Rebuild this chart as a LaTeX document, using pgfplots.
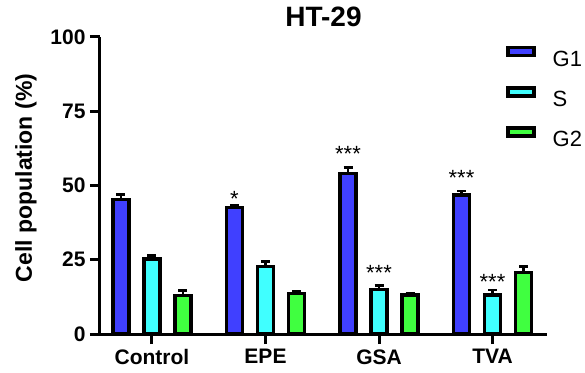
\documentclass[border=0pt]{standalone}
\usepackage{fontspec}
\setmainfont{Liberation Sans}
\usepackage{pgfplots}
\pgfplotsset{compat=1.18}
\definecolor{cG1}{HTML}{4040FF}
\definecolor{cS}{HTML}{40FFFF}
\definecolor{cG2}{HTML}{40FF40}
\begin{document}
\begin{tikzpicture}
\begin{axis}[
  at={(0pt,0pt)}, anchor=south west,
  scale only axis, width=447pt, height=297pt,
  xmin=-0.458, xmax=3.48, ymin=0, ymax=100,
  axis x line*=bottom, axis y line*=left,
  axis line style={line width=3pt, -},
  ytick={0,25,50,75,100},
  xtick={0,1,2,3}, xticklabels={Control,EPE,GSA,TVA},
  tick style={line width=3pt, black}, major tick length=10pt, tick align=outside,
  ticklabel style={font=\fontsize{21}{24}\selectfont\bfseries},
  /pgf/number format/assume math mode=true,
  yticklabel style={xshift=-1pt},
  xticklabel style={yshift=-2pt},
  ylabel={Cell population (\%)},
  ylabel style={font=\fontsize{23}{26}\selectfont\bfseries, at={(axis description cs:0,0.5)}, anchor=center, yshift=74pt, xshift=7.5pt},
  title={HT-29},
  title style={font=\fontsize{28}{30}\selectfont\bfseries, at={(axis description cs:0.5,1)}, anchor=base, yshift=4pt},
  ybar, bar width=16pt,
  legend style={draw=none, fill=none, at={(axis description cs:0.9016,0.9774)}, anchor=north west,
    font=\fontsize{22}{24}\selectfont, nodes={inner sep=0pt}, row sep=18pt, column sep=17pt},
  legend cell align=left,
  legend image code/.code={\draw[#1, line width=3.5pt, draw=black] (0pt,4pt) rectangle (26pt,12pt);},
  error bars/y dir=plus, error bars/y explicit,
  error bars/error bar style={line width=2.5pt, black},
  error bars/error mark options={rotate=90, mark size=4.5pt, line width=2.5pt, black},
]
\addplot[bar shift=-31pt, fill=cG1, draw=black, line width=3.5pt]
  coordinates {(0,45.3) +- (0,1.7) (1,42.6) +- (0,0.9) (2,54.1) +- (0,2.0) (3,46.8) +- (0,1.4)};
\addplot[bar shift=0pt, fill=cS, draw=black, line width=3.5pt]
  coordinates {(0,25.2) +- (0,1.2) (1,22.7) +- (0,1.7) (2,14.9) +- (0,1.4) (3,13.2) +- (0,1.6)};
\addplot[bar shift=31pt, fill=cG2, draw=black, line width=3.5pt]
  coordinates {(0,13.0) +- (0,1.7) (1,13.6) +- (0,0.7) (2,13.2) +- (0,0.6) (3,20.7) +- (0,2.1)};
\legend{G1,S,G2}
\node[anchor=base, font=\fontsize{22}{24}\selectfont, xshift=-31pt, yshift=-12.5pt] at (axis cs:1,47.0) {*};
\node[anchor=base, font=\fontsize{22}{24}\selectfont, xshift=-31pt, yshift=-12.5pt] at (axis cs:2,62.3) {***};
\node[anchor=base, font=\fontsize{22}{24}\selectfont, xshift=0pt, yshift=-12.5pt] at (axis cs:2,22.1) {***};
\node[anchor=base, font=\fontsize{22}{24}\selectfont, xshift=-31pt, yshift=-12.5pt] at (axis cs:3,54.3) {***};
\node[anchor=base, font=\fontsize{22}{24}\selectfont, xshift=0pt, yshift=-12.5pt] at (axis cs:3,19.1) {***};
\end{axis}
\pgfresetboundingbox
\path[use as bounding box] (-100pt,-38pt) rectangle (485pt,334pt);
\end{tikzpicture}
\end{document}
